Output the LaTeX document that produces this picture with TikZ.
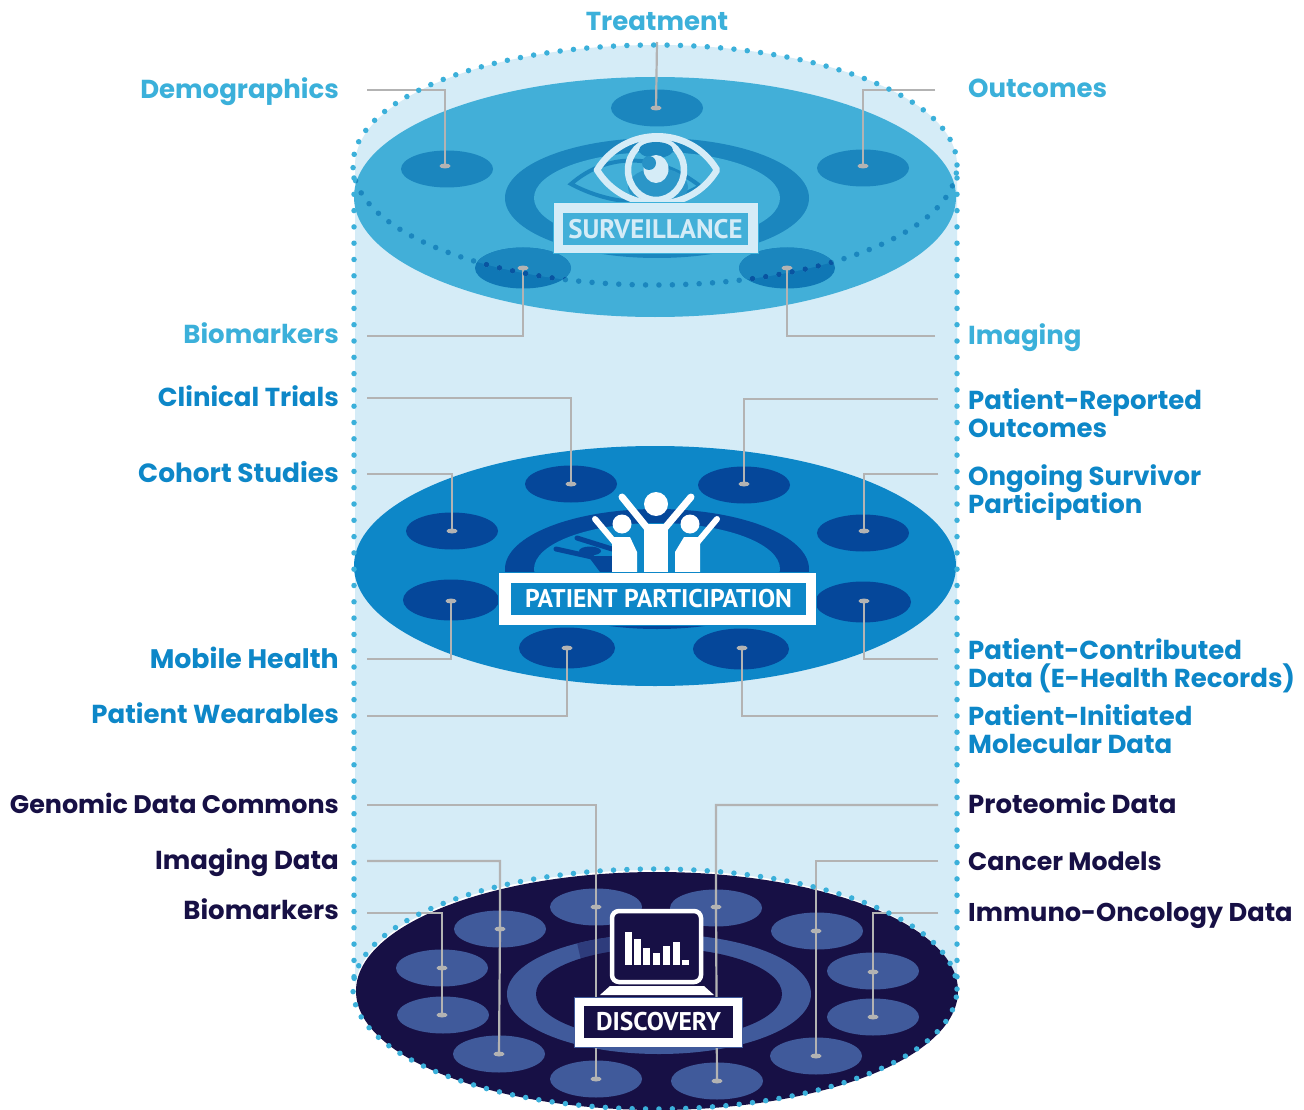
\documentclass[tikz,border=0pt]{standalone}
\usepackage{fontspec}
\setmainfont{Poppins}
\newfontfamily\din{PT Sans}
\usetikzlibrary{shapes, positioning}
\definecolor{paleBlue}{HTML}{D5ECF7}
\definecolor{dotBlue}{HTML}{3BB0DA}
\definecolor{skyBlue}{HTML}{42AFD8}
\definecolor{skyDark}{HTML}{1B86BE}
\definecolor{skyDeep}{HTML}{0F77B5}
\definecolor{midBlue}{HTML}{0D87C8}
\definecolor{midDark}{HTML}{05479A}
\definecolor{navy}{HTML}{171045}
\definecolor{slateBlue}{HTML}{405A9B}
\definecolor{slateDark}{HTML}{2E3C7C}
\definecolor{leadGray}{HTML}{B3B3B3}
\begin{document}
\begin{tikzpicture}[x=1pt, y=-1pt,
    spot/.style={ellipse, inner sep=0pt, minimum width=92pt, minimum height=37pt},
    bigspot/.style={spot, minimum width=96pt, minimum height=41pt},
    pin/.style={ellipse, fill=leadGray, inner sep=0pt, minimum width=11pt, minimum height=5pt},
    lead/.style={draw=leadGray, line width=2.2pt},
    dotline/.style={line cap=round, line width=5.5pt, dash pattern=on 0pt off 13.4pt},
    sideline/.style={dotBlue, line cap=round, line width=5.5pt, dash pattern=on 0pt off 16.3pt},
    lab/.style={font=\fontsize{26}{28}\selectfont\bfseries, inner sep=0pt, align=left},
    tag/.style={font=\din\fontsize{26}{28}\selectfont\bfseries, inner sep=0pt}]
    \useasboundingbox (0,0) rectangle (1304,1110);
    \fill[white] (0,0) rectangle (1304,1110);

    % cylinder
    \fill[paleBlue] (355,165) arc[start angle=180, end angle=0, x radius=301pt, y radius=120pt]
        -- (957,990) arc[start angle=0, end angle=180, x radius=301pt, y radius=120pt] -- cycle;

    % three discs
    \fill[skyBlue] (655,197) ellipse [x radius=301pt, y radius=120pt];
    \fill[midBlue] (655,566) ellipse [x radius=301pt, y radius=120pt];
    \fill[navy] (657,991) ellipse [x radius=301pt, y radius=119pt];

    % rings
    \fill[skyDark] (657,198) ellipse [x radius=152pt, y radius=60pt];
    \fill[skyBlue] (657,198) ellipse [x radius=123pt, y radius=46pt];
    \fill[midDark] (657,569) ellipse [x radius=152pt, y radius=60pt];
    \fill[midBlue] (657,569) ellipse [x radius=123pt, y radius=46pt];
    \fill[slateBlue] (659,994) ellipse [x radius=152pt, y radius=60pt];
    \begin{scope}
        \clip (659,994) ellipse [x radius=152pt, y radius=60pt];
        \fill[slateDark] (574,930) -- (618,925) -- (618,952) -- (581,960) -- cycle;
    \end{scope}
    \fill[navy] (659,994) ellipse [x radius=123pt, y radius=46pt];

    % spots of the top disc
    \node (demoSpot) [spot, fill=skyDark] at (447,169) {};
    \node (treatSpot) [spot, fill=skyDark] at (657,108) {};
    \node (outSpot) [spot, fill=skyDark] at (863,168) {};
    \node (bioSpot) [bigspot, fill=skyDeep] at (523,268) {};
    \node (imgSpot) [bigspot, fill=skyDeep] at (787,268) {};
    \begin{scope}
        \clip (655,165) ellipse [x radius=302pt, y radius=120pt];
        \fill[skyDark] (523,268) ellipse [x radius=48pt, y radius=20.5pt];
        \fill[skyDark] (787,268) ellipse [x radius=48pt, y radius=20.5pt];
    \end{scope}

    % spots of the middle disc
    \foreach \name/\x/\y in {trial/571/484, pro/744/485, cohort/452/531, survivor/863/533}
        \node (\name Spot) [spot, fill=midDark] at (\x,\y) {};
    \foreach \name/\x/\y in {mobile/451/600, contrib/863/602, wear/567/648, molec/741/649}
        \node (\name Spot) [bigspot, fill=midDark] at (\x,\y) {};

    % spots of the bottom disc
    \foreach \name/\x/\y in {gdcA/596/907, protA/716/908, imA/500/929, canA/817/931,
        bioA/442/968, immA/873/971, bioB/443/1015, immB/873/1017,
        imB/499/1054, canB/816/1056, gdcB/596/1079, protB/717/1081}
        \node (\name Spot) [spot, fill=slateBlue] at (\x,\y) {};

    % pins
    \foreach \name/\x/\y in {demo/445/166, treat/656/108, out/863/166, bio/523/268, img/787/268,
        trial/571/484, pro/744/484, cohort/452/531, survivor/864/531,
        mobile/451/601, contrib/864/601, wear/567/648, molec/742/648,
        gdcA/596/907, protA/716/907, imA/500/929, canA/816/931,
        bioA/442/968, immA/873/972, bioB/442/1015, immB/873/1017,
        imB/499/1054, canB/816/1056, gdcB/596/1079, protB/717/1081}
        \node (\name Pin) [pin] at (\x,\y) {};

    % free ends of the leaders
    \foreach \name/\x/\y in {demo/367/90, treat/657/42, out/935/90, bio/367/336, img/935/336,
        trial/367/398, cohort/367/474, mobile/367/659, wear/367/716,
        pro/938/399, survivor/938/474, contrib/938/659, molec/938/716,
        gdc/367/805, im/367/861, bioData/367/913, prot/938/805, can/938/861, imm/938/913}
        \coordinate (\name End) at (\x,\y);

    % leaders
    \draw[lead] (demoEnd) -| (demoPin.center);
    \draw[lead] (treatEnd) -- (treatPin.center);
    \draw[lead] (outEnd) -| (outPin.center);
    \draw[lead] (bioEnd) -| (bioPin.center);
    \draw[lead] (imgEnd) -| (imgPin.center);
    \draw[lead] (trialEnd) -| (trialPin.center);
    \draw[lead] (cohortEnd) -| (cohortPin.center);
    \draw[lead] (mobileEnd) -| (mobilePin.center);
    \draw[lead] (wearEnd) -| (wearPin.center);
    \draw[lead] (proEnd) -| (proPin.center);
    \draw[lead] (survivorEnd) -| (survivorPin.center);
    \draw[lead] (contribEnd) -| (contribPin.center);
    \draw[lead] (molecEnd) -| (molecPin.center);
    \draw[lead] (gdcEnd) -| (gdcAPin.center) -- (gdcBPin.center);
    \draw[lead] (imEnd) -| (imAPin.center) -- (imBPin.center);
    \draw[lead] (bioDataEnd) -| (bioAPin.center) -- (bioBPin.center);
    \draw[lead] (protEnd) -| (protAPin.center) -- (protBPin.center);
    \draw[lead] (canEnd) -| (canAPin.center) -- (canBPin.center);
    \draw[lead] (immEnd) -| (immAPin.center) -- (immBPin.center);

    % dotted outline
    \draw[dotline, dotBlue] (655,165) ellipse [x radius=302pt, y radius=120pt];
    \begin{scope}
        \clip (655,197) ellipse [x radius=301pt, y radius=120pt];
        \draw[dotline, skyDark] (655,165) ellipse [x radius=302pt, y radius=120pt];
        \clip (523,268) ellipse [x radius=48pt, y radius=20.5pt] (787,268) ellipse [x radius=48pt, y radius=20.5pt];
        \draw[dotline, midDark!80!skyDark] (655,165) ellipse [x radius=302pt, y radius=120pt];
    \end{scope}
    \draw[sideline] (354,178) -- (354,990);
    \draw[sideline] (957,178) -- (957,990);
    \draw[dotline, dotBlue] (655,989) ellipse [x radius=302pt, y radius=120pt];

    % eye
    \draw[skyDark, line width=4pt] (571,184) .. controls (610,150) and (660,155) .. (700,186)
        .. controls (660,210) and (610,205) .. cycle;
    \fill[skyDark!60!skyBlue] (658,187) ellipse [x radius=30pt, y radius=19pt];
    \draw[paleBlue, line width=6.5pt, line join=round] (597,170) .. controls (625,125) and (690,125) .. (717,170)
        .. controls (690,215) and (625,215) .. cycle;
    \draw[paleBlue, line width=6.5pt] (656,170) ellipse [x radius=28pt, y radius=30pt];
    \fill[skyDark] (656,150) ellipse [x radius=17pt, y radius=8pt];
    \fill[paleBlue] (656,169) ellipse [x radius=12.5pt, y radius=14pt];
    \fill[skyDark!70!skyBlue] (649,163) circle (7pt);

    % people
    \draw[midDark, line width=5pt, line cap=round] (577,538) -- (612,549) (556,549) -- (592,557);
    \fill[midDark] (590,551) ellipse [x radius=11pt, y radius=4.5pt];
    \fill[midDark] (588,556) -- (612,556) -- (615,572) -- (600,572) -- cycle;
    \fill[white] (656,504) circle (12pt);
    \fill[white] (622,524) circle (9.5pt);
    \fill[white] (690,524) circle (9.5pt);
    \draw[white, line width=7pt, line cap=round, line join=round] (622,497) -- (648,529) (691,497) -- (664,529);
    \fill[white] (644,572) -- (644,524) -- (668,524) -- (668,572) -- cycle;
    \draw[white, line width=6pt, line cap=round] (595,519) -- (616,544);
    \draw[white, line width=6pt, line cap=round] (717,519) -- (696,544);
    \fill[white] (612,572) -- (612,537) -- (630,537) -- (637,552) -- (637,572) -- cycle;
    \fill[white] (700,572) -- (700,537) -- (684,537) -- (675,552) -- (675,572) -- cycle;

    % computer
    \draw[white, line width=4.5pt, rounded corners=7pt, fill=navy] (612,911) rectangle (701,982);
    \foreach \x/\y in {625/932, 634/939, 643/948, 653/953, 663/946, 673/942, 682/960}
        \fill[white] (\x,\y) rectangle ++(7,965-\y);
    \fill[white] (610,986) -- (704,986) -- (714,995) -- (600,995) -- cycle;

    % banners
    \fill[paleBlue, draw=dotBlue, line width=1pt] (553,203) rectangle (758,254);
    \node (survTag) [tag, fill=skyBlue, text=paleBlue, minimum width=185pt, minimum height=32pt] at (655.5,229) {\fontsize{26.8}{28}\selectfont SURVEILLANCE};
    \fill[white, draw=midBlue, line width=1pt] (498,572) rectangle (816,625);
    \node (partTag) [tag, fill=midBlue, text=white, minimum width=295pt, minimum height=32pt] at (658.5,599) {\fontsize{25.6}{28}\selectfont PATIENT PARTICIPATION};
    \fill[white, draw=slateBlue, line width=1pt] (574,997) rectangle (742,1047);
    \node (discTag) [tag, fill=navy, text=white, minimum width=149pt, minimum height=32pt] at (658.5,1022) {\fontsize{25.6}{28}\selectfont DISCOVERY};

    % labels of the top disc
    \node (demo) [lab, text=dotBlue, anchor=base east] at (339,99) {Demographics};
    \node (treat) [lab, text=dotBlue, anchor=base] at (657,31) {Treatment};
    \node (out) [lab, text=dotBlue, anchor=base west] at (968,98) {Outcomes};
    \node (bio) [lab, text=dotBlue, anchor=base east] at (339,343) {Biomarkers};
    \node (img) [lab, text=dotBlue, anchor=base west] at (968,344) {Imaging};

    % labels of the middle disc
    \node (trial) [lab, text=midBlue, anchor=base east] at (339,406) {Clinical Trials};
    \node (cohort) [lab, text=midBlue, anchor=base east] at (339,482) {\fontsize{26.4}{28}\selectfont Cohort Studies};
    \node (mobile) [lab, text=midBlue, anchor=base east] at (339,668) {\fontsize{26.8}{28}\selectfont Mobile Health};
    \node (wear) [lab, text=midBlue, anchor=base east] at (339,723) {Patient Wearables};
    \node (pro) [lab, text=midBlue, anchor=west] at (968,413) {Patient-Reported\\Outcomes};
    \node (survivor) [lab, text=midBlue, anchor=west] at (968,493) {Ongoing Survivor\\Participation};
    \node (contrib) [lab, text=midBlue, anchor=west] at (968,666) {Patient-Contributed\\Data (E-Health Records)};
    \node (molec) [lab, text=midBlue, anchor=west] at (968,729) {Patient-Initiated\\Molecular Data};

    % labels of the bottom disc
    \node (gdc) [lab, text=navy, anchor=base east] at (339,813) {\fontsize{25.4}{28}\selectfont Genomic Data Commons};
    \node (im) [lab, text=navy, anchor=base east] at (339,869) {Imaging Data};
    \node (bioData) [lab, text=navy, anchor=base east] at (339,919) {Biomarkers};
    \node (prot) [lab, text=navy, anchor=base west] at (968,813) {Proteomic Data};
    \node (can) [lab, text=navy, anchor=base west] at (968,870) {\fontsize{25.2}{28}\selectfont Cancer Models};
    \node (imm) [lab, text=navy, anchor=base west] at (968,921) {\fontsize{25.7}{28}\selectfont Immuno-Oncology Data};
\end{tikzpicture}
\end{document}
